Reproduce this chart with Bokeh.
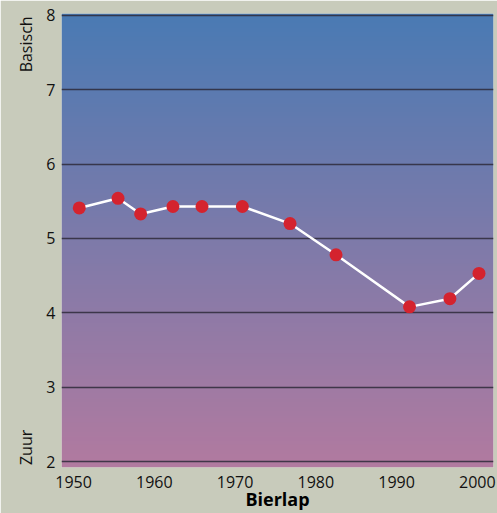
import numpy as np
from bokeh.plotting import figure
from bokeh.models import Range1d, FixedTicker, LinearAxis
from bokeh.embed import file_html
from bokeh.resources import INLINE

# Data (pH, Bierlap)
years = [1950.7, 1955.5, 1958.3, 1962.3, 1965.9, 1970.9, 1976.8, 1982.5, 1991.6, 1996.6, 2000.2]
ph = [5.41, 5.54, 5.33, 5.43, 5.43, 5.43, 5.20, 4.78, 4.08, 4.19, 4.53]
x_ticks = [1950, 1960, 1970, 1980, 1990, 2000]
y_ticks = [2, 3, 4, 5, 6, 7, 8]
title = "Bierlap"
top_label = "Basisch"
bottom_label = "Zuur"
side_label_pos = [7.61, 2.19]

BG = "#c8cbbb"
FONT = "Open Sans"

x0, x1 = 1948.5, 2002.0
y0, y1 = 1.92, 8.025

p = figure(width=497, height=513, output_backend="svg", toolbar_location=None,
           x_range=Range1d(x0, x1), y_range=Range1d(y0, y1),
           min_border_left=61, min_border_right=4, min_border_top=13, min_border_bottom=46)
p.background_fill_color = BG
p.border_fill_color = BG
p.outline_line_color = None

# vertical gradient background (styling)
n = 200
top = np.array([74, 122, 180])
bot = np.array([178, 122, 160])
t = np.linspace(0, 1, n)[:, None]  # row 0 = bottom
cols = (bot * (1 - t) + top * t).astype(np.uint8)
img = np.empty((n, 1), dtype=np.uint32)
view = img.view(dtype=np.uint8).reshape((n, 1, 4))
view[:, 0, 0] = cols[:, 0]
view[:, 0, 1] = cols[:, 1]
view[:, 0, 2] = cols[:, 2]
view[:, 0, 3] = 255
p.image_rgba(image=[img], x=x0, y=y0, dw=x1 - x0, dh=y1 - y0, level="image")

p.xgrid.grid_line_color = None
p.ygrid.ticker = FixedTicker(ticks=y_ticks)
p.ygrid.grid_line_color = "#2e2a3a"
p.ygrid.grid_line_width = 1.7
p.ygrid.grid_line_alpha = 0.85
p.ygrid.level = "underlay"

p.line(years, ph, line_color="white", line_width=2.5)
p.scatter(years, ph, size=13, fill_color="#d4232e", line_color=None)

p.xaxis.ticker = FixedTicker(ticks=x_ticks)
p.yaxis.ticker = FixedTicker(ticks=y_ticks)

side = LinearAxis(ticker=FixedTicker(ticks=side_label_pos),
                  major_label_overrides={side_label_pos[0]: top_label,
                                         side_label_pos[1]: bottom_label},
                  major_label_orientation="vertical")
p.add_layout(side, "left")

for ax in (p.xaxis[0], p.yaxis[0], side):
    ax.axis_line_color = None
    ax.major_tick_line_color = None
    ax.minor_tick_line_color = None
    ax.major_label_text_font = FONT
    ax.major_label_text_font_size = "16px"
    ax.major_label_text_color = "#111111"
side.major_label_text_font_size = "16px"
side.major_label_standoff = -5
p.xaxis.major_label_standoff = 2
p.yaxis.major_label_standoff = 0

p.xaxis.axis_label = title
p.xaxis.axis_label_text_font = FONT
p.xaxis.axis_label_text_font_style = "bold"
p.xaxis.axis_label_text_font_size = "18px"
p.xaxis.axis_label_standoff = -4
p.xaxis.axis_label_text_color = "#000000"

open("out.html", "w").write(file_html(p, INLINE))
